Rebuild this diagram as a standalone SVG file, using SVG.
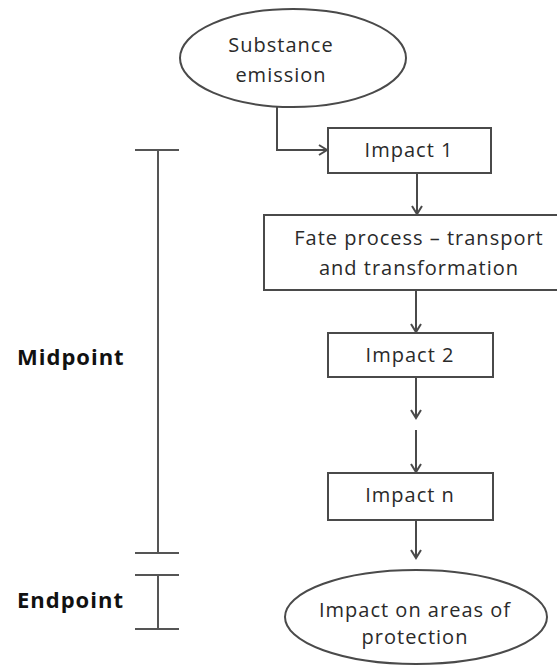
<svg xmlns="http://www.w3.org/2000/svg" width="557" height="666" viewBox="0 0 557 666">
  <style>
    .shape { fill: #ffffff; stroke: #4a4a4a; stroke-width: 2; }
    .edge { fill: none; stroke: #4a4a4a; stroke-width: 2; }
    .bar { fill: none; stroke: #555555; stroke-width: 2; }
    .label { font-family: "Open Sans", "Liberation Sans", sans-serif; font-size: 20px; fill: #2a2a2a; text-anchor: middle; letter-spacing: 1px; }
    .scale { font-family: "Open Sans", "Liberation Sans", sans-serif; font-size: 22px; font-weight: bold; fill: #111111; letter-spacing: 1px; }
  </style>
  <defs>
    <marker id="open-arrow" markerWidth="12" markerHeight="12" refX="10" refY="6" orient="auto" markerUnits="userSpaceOnUse">
      <path d="M2,1 L10,6 L2,11" fill="none" stroke="#4a4a4a" stroke-width="2"/>
    </marker>
  </defs>

  <!-- connectors -->
  <g id="connectors">
    <path class="edge" d="M277,107 V150 H327" marker-end="url(#open-arrow)"/>
    <path class="edge" d="M417,173 V214" marker-end="url(#open-arrow)"/>
    <path class="edge" d="M416,290 V332" marker-end="url(#open-arrow)"/>
    <path class="edge" d="M416,377 V418" marker-end="url(#open-arrow)"/>
    <path class="edge" d="M416,430 V472" marker-end="url(#open-arrow)"/>
    <path class="edge" d="M416,520 V558" marker-end="url(#open-arrow)"/>
  </g>

  <!-- source ellipse -->
  <g id="substance-emission">
    <ellipse class="shape" cx="293" cy="58" rx="113" ry="49"/>
    <text class="label" x="281" y="52">Substance</text>
    <text class="label" x="281" y="82">emission</text>
  </g>

  <g id="impact-1">
    <rect class="shape" x="328" y="128" width="163" height="45"/>
    <text class="label" x="409" y="157">Impact 1</text>
  </g>

  <g id="fate-process">
    <rect class="shape" x="264" y="215" width="300" height="75"/>
    <text class="label" x="419" y="245">Fate process – transport</text>
    <text class="label" x="419" y="275">and transformation</text>
  </g>

  <g id="impact-2">
    <rect class="shape" x="328" y="333" width="165" height="44"/>
    <text class="label" x="410" y="362">Impact 2</text>
  </g>

  <g id="impact-n">
    <rect class="shape" x="328" y="473" width="165" height="47"/>
    <text class="label" x="410" y="502">Impact n</text>
  </g>

  <!-- final ellipse -->
  <g id="areas-of-protection">
    <ellipse class="shape" cx="416" cy="617" rx="131" ry="47"/>
    <text class="label" x="415" y="617">Impact on areas of</text>
    <text class="label" x="415" y="644">protection</text>
  </g>

  <!-- midpoint / endpoint scale -->
  <g id="midpoint-scale">
    <path class="bar" d="M135,150 H179 M158,150 V553 M135,553 H179"/>
    <text class="scale" x="17" y="365">Midpoint</text>
  </g>
  <g id="endpoint-scale">
    <path class="bar" d="M135,575 H179 M158,575 V629 M135,629 H179"/>
    <text class="scale" x="17" y="608">Endpoint</text>
  </g>
</svg>
